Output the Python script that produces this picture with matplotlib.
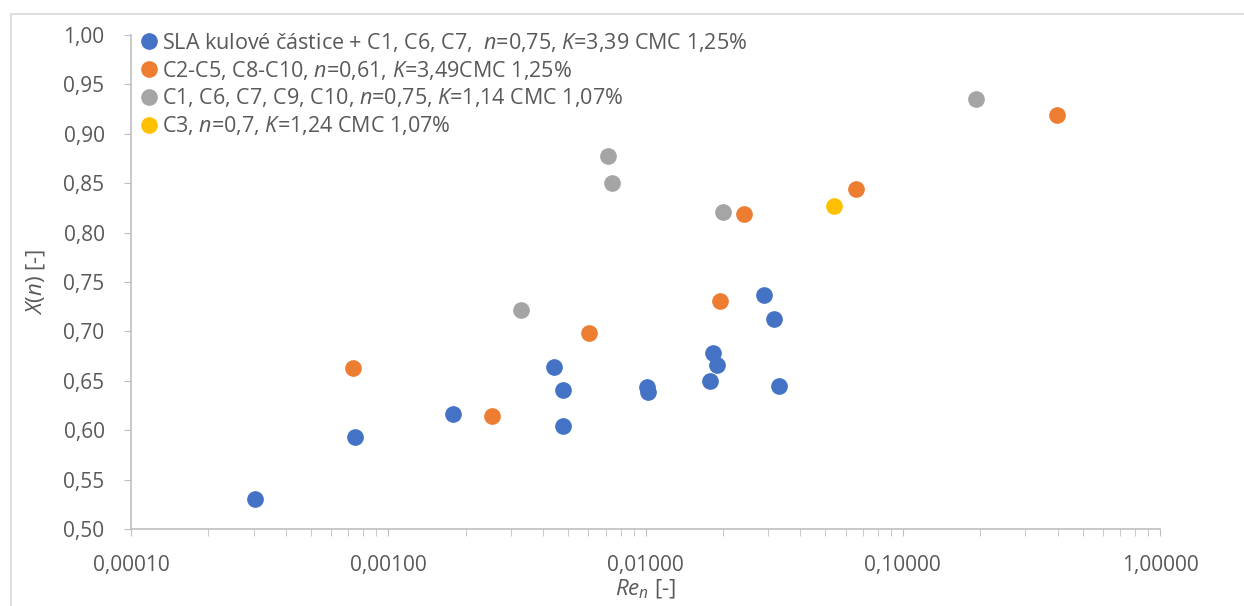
import matplotlib
matplotlib.use('Agg')
import matplotlib.pyplot as plt
from matplotlib.ticker import FuncFormatter, FixedLocator, LogLocator, NullFormatter

plt.rcParams['font.family'] = ['Open Sans', 'DejaVu Sans']
plt.rcParams['mathtext.fontset'] = 'custom'
plt.rcParams['mathtext.rm'] = 'Open Sans'
plt.rcParams['mathtext.it'] = 'Open Sans:italic'

# series data (Re_n, X(n))
sla_x = [0.000303, 0.000743, 0.00178, 0.00441, 0.00479, 0.00479, 0.0101, 0.0102,
         0.01786, 0.01823, 0.0190, 0.0288, 0.0317, 0.0331]
sla_y = [0.530, 0.593, 0.616, 0.664, 0.641, 0.604, 0.644, 0.639,
         0.650, 0.678, 0.666, 0.737, 0.713, 0.645]
c2_x = [0.000731, 0.00252, 0.00601, 0.0194, 0.0241, 0.0656, 0.399]
c2_y = [0.663, 0.614, 0.698, 0.731, 0.819, 0.844, 0.919]
c1_x = [0.00329, 0.00713, 0.00742, 0.0201, 0.192]
c1_y = [0.722, 0.878, 0.850, 0.821, 0.935]
c3_x = [0.0539]
c3_y = [0.827]

labels = ['SLA kulové částice + C1, C6, C7,  $\\mathit{n}$=0,75, $\\mathit{K}$=3,39 CMC 1,25%',
          'C2-C5, C8-C10, $\\mathit{n}$=0,61, $\\mathit{K}$=3,49CMC 1,25%',
          'C1, C6, C7, C9, C10, $\\mathit{n}$=0,75, $\\mathit{K}$=1,14 CMC 1,07%',
          'C3, $\\mathit{n}$=0,7, $\\mathit{K}$=1,24 CMC 1,07%']
colors = ['#4472C4', '#ED7D31', '#A5A5A5', '#FFC000']

x_ticks = [0.0001, 0.001, 0.01, 0.1, 1.0]
y_ticks = [0.50, 0.55, 0.60, 0.65, 0.70, 0.75, 0.80, 0.85, 0.90, 0.95, 1.00]

fig = plt.figure(figsize=(12.44, 6.06), dpi=100)
ax = fig.add_axes([131/1244, 77/606, 1029/1244, 494/606])

# chart border
fig.patches.append(plt.Rectangle((11/1244, -0.1), 1.2, (606-14)/606 + 0.1,
                                 transform=fig.transFigure, fill=False,
                                 edgecolor='#D9D9D9', linewidth=1.2))

series = [(sla_x, sla_y), (c2_x, c2_y), (c1_x, c1_y), (c3_x, c3_y)]
for (xs, ys), lab, col in zip(series, labels, colors):
    ax.plot(xs, ys, 'o', ms=11, color=col, label=lab, clip_on=False)

ax.set_xscale('log')
ax.set_xlim(0.0001, 1.0)
ax.set_ylim(0.5, 1.0)
ax.xaxis.set_major_locator(FixedLocator(x_ticks))
ax.xaxis.set_minor_locator(LogLocator(base=10, subs=range(2, 10)))
ax.xaxis.set_minor_formatter(NullFormatter())
ax.xaxis.set_major_formatter(FuncFormatter(lambda v, p: f'{v:.5f}'.replace('.', ',')))
ax.set_yticks(y_ticks)
ax.yaxis.set_major_formatter(FuncFormatter(lambda v, p: f'{v:.2f}'.replace('.', ',')))

for s in ['top', 'right']:
    ax.spines[s].set_visible(False)
for s in ['left', 'bottom']:
    ax.spines[s].set_color('#BFBFBF')
    ax.spines[s].set_linewidth(1.2)

ax.tick_params(axis='x', which='both', direction='out', length=5, color='#BFBFBF',
               labelsize=15, labelcolor='#595959', pad=14)
ax.tick_params(axis='y', direction='out', length=5, color='#BFBFBF',
               labelsize=15, labelcolor='#595959', pad=14)

ax.set_xlabel('$\\mathit{Re_n}$ [-]', fontsize=16, color='#595959', labelpad=1)
ax.set_ylabel('$\\mathit{X(n)}$ [-]', fontsize=16, color='#595959', labelpad=12)

ax.legend(loc='upper left', bbox_to_anchor=(0.0, 1.03), frameon=False,
          fontsize=15.5, handlelength=0.7, handletextpad=0.25, labelspacing=0.22,
          borderaxespad=0.1, markerscale=1.0, labelcolor='#595959')

fig.savefig('out.png', dpi=100)
